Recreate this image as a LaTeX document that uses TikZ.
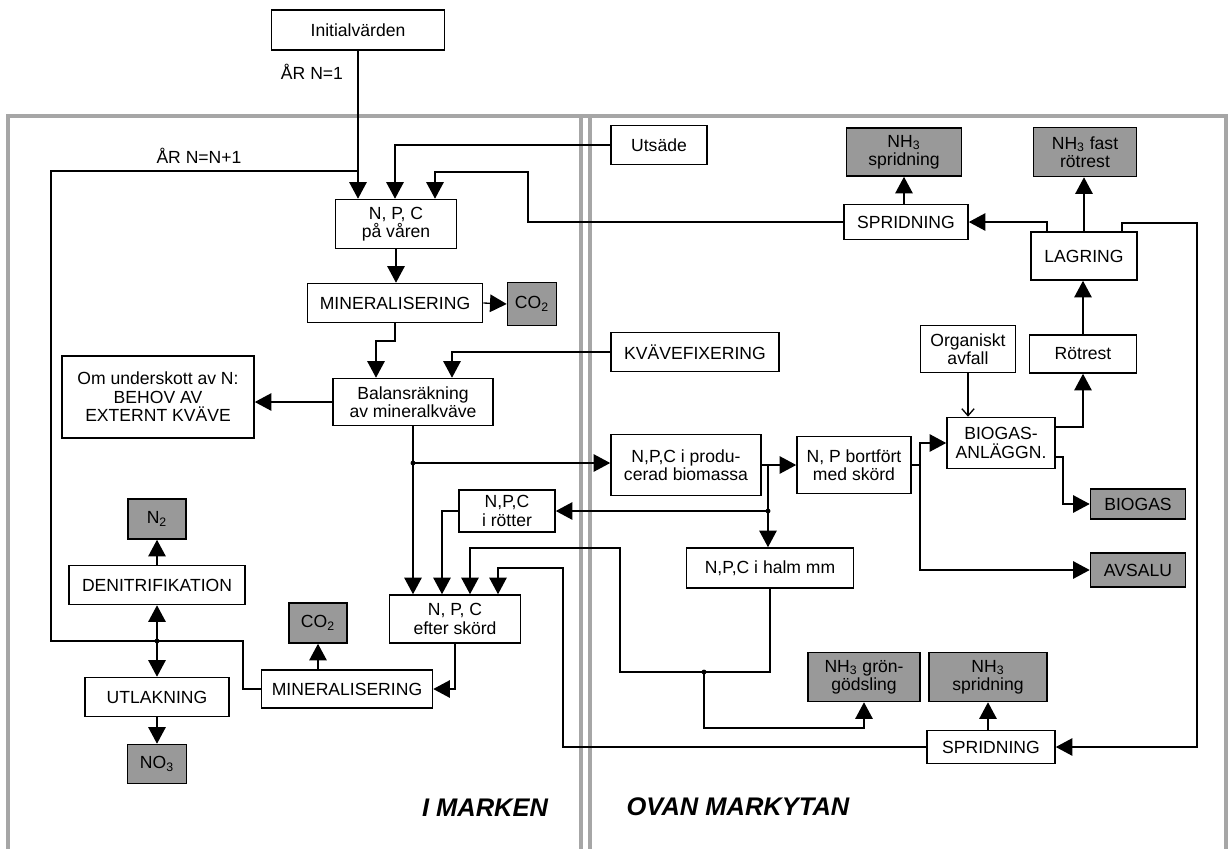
\documentclass[tikz,border=0pt]{standalone}
\usepackage{fontspec}
\setmainfont{Liberation Sans}
\usetikzlibrary{arrows.meta}

\tikzset{ruta/.style={draw,line width=0.9pt,align=center,inner sep=1pt},
  utruta/.style={ruta,fill=black!40},
  sz/.style 2 args={minimum width=#1*0.02cm,minimum height=#2*0.02cm},
  flow/.style={line width=0.75pt},
  arr/.style={flow,-{Triangle[length=9.5pt,width=10pt]}},
  tunnpil/.style={flow,-{Straight Barb[length=4pt,width=7pt]}},
  ram/.style={line width=2.6pt,black!35},
  rubrik/.style={font=\fontsize{14.5}{16}\selectfont\bfseries\itshape}}

\begin{document}
\begin{tikzpicture}[x=0.02cm,y=-0.02cm,font=\fontsize{10}{10.5}\selectfont]
        \useasboundingbox (0,0) rectangle (1232,849);
        % ramar
        \draw[ram] (8,849) -- (8,116) -- (1226,116) -- (1226,849);
        \draw[ram] (581,116) -- (581,849);
        \draw[ram] (590,116) -- (590,849);
        % i marken
        \node[ruta,sz={173}{40}] (ini) at (358,30) {Initialvärden};
        \node[ruta,sz={121}{49}] (var) at (396,224) {N, P, C\\på våren};
        \node[ruta,sz={175}{39}] (min1) at (395,303) {MINERALISERING};
        \node[utruta,sz={49}{43}] (co2a) at (532,304) {CO\textsubscript{2}};
        \node[ruta,sz={160}{47}] (bal) at (413,402) {Balansräkning\\av mineralkväve};
        \node[ruta,sz={192}{82}] (om) at (158,397) {Om underskott av N:\\BEHOV AV\\EXTERNT KVÄVE};
        \node[ruta,sz={96}{42}] (rot) at (507,511) {N,P,C\\i rötter};
        \node[ruta,sz={131}{48}] (eft) at (455,619) {N, P, C\\efter skörd};
        \node[ruta,sz={171}{38}] (min2) at (347,689) {MINERALISERING};
        \node[utruta,sz={58}{40}] (co2b) at (318,623) {CO\textsubscript{2}};
        \node[ruta,sz={176}{39}] (deni) at (157,585) {DENITRIFIKATION};
        \node[ruta,sz={144}{39}] (utl) at (157,697) {UTLAKNING};
        \node[utruta,sz={58}{40}] (n2) at (157,519) {N\textsubscript{2}};
        \node[utruta,sz={59}{39}] (no3) at (157,764) {NO\textsubscript{3}};
        % ovan markytan
        \node[ruta,sz={96}{39}] (uts) at (659,145) {Utsäde};
        \node[ruta,sz={168}{39}] (kvf) at (695,352) {KVÄVEFIXERING};
        \node[ruta,sz={150}{61}] (bio) at (686,465) {N,P,C i produ-\\cerad biomassa};
        \node[ruta,sz={167}{40}] (halm) at (770,568) {N,P,C i halm mm};
        \node[ruta,sz={114}{57}] (bort) at (854,465) {N, P bortfört\\med skörd};
        \node[ruta,sz={108}{51}] (bga) at (1001,443) {BIOGAS-\\ANLÄGGN.};
        \node[ruta,sz={95}{47}] (org) at (968,349) {Organiskt\\avfall};
        \node[ruta,sz={107}{38}] (rotr) at (1083,354) {Rötrest};
        \node[ruta,sz={106}{48}] (lag) at (1084,256) {LAGRING};
        \node[ruta,sz={124}{35}] (spr1) at (906,222) {SPRIDNING};
        \node[utruta,sz={115}{48}] (nh3a) at (904,152) {NH\textsubscript{3}\\spridning};
        \node[utruta,sz={103}{49}] (nh3c) at (1085,152) {NH\textsubscript{3} fast\\rötrest};
        \node[utruta,sz={95}{30}] (biog) at (1138,504) {BIOGAS};
        \node[utruta,sz={95}{34}] (avs) at (1138,570) {AVSALU};
        \node[utruta,sz={112}{49}] (gron) at (864,677) {NH\textsubscript{3} grön-\\gödsling};
        \node[utruta,sz={118}{49}] (nh3b) at (988,677) {NH\textsubscript{3}\\spridning};
        \node[ruta,sz={128}{33}] (spr2) at (991,747) {SPRIDNING};
        % texter
        \node (ar1) at (312,72) {ÅR N=1};
        \node (ar2) at (199,156) {ÅR N=N+1};
        \node[rubrik] (mark) at (485,808) {I MARKEN};
        \node[rubrik] (ovan) at (738,807) {OVAN MARKYTAN};
        % knutpunkter
        \coordinate (j1) at (157,641);
        \coordinate (j2) at (413,463);
        \coordinate (j3) at (768,465);
        \coordinate (j4) at (768,511);
        \coordinate (j5) at (704,672);
        \foreach \j in {j1,j2,j4,j5} \fill (\j) circle (1.4pt);
        % pilar
        \draw[arr] (ini.south) -- (ini.south |- var.north);
        \draw[flow] (j1) -- (51,641) |- (358,171);
        \draw[arr] (uts.west) -| (395,0 |- var.north);
        \draw[arr] (spr1.west) -| (528,172) -| (435,0 |- var.north);
        \draw[arr] (var.south) -- (var.south |- min1.north);
        \draw[arr] (min1.east) -- (co2a.west);
        \draw[arr] (min1.south) -- (395,341) -| (376,0 |- bal.north);
        \draw[arr] (kvf.west) -| (452,0 |- bal.north);
        \draw[arr] (bal.west) -- (bal.west -| om.east);
        \draw[arr] (bal.south) -- (bal.south |- eft.north);
        \draw[arr] (j2) -- (j2 -| bio.west);
        \draw[arr] (bio.east) -- (bort.west);
        \draw[arr] (j3) -- (j3 |- halm.north);
        \draw[arr] (j4) -- (j4 -| rot.east);
        \draw[arr] (rot.west) -| (442,0 |- eft.north);
        \draw[arr] (halm.south) -- (770,672) -- (620,672) -- (620,548) -| (470,0 |- eft.north);
        \draw[arr] (j5) -- (704,728) -| (gron.south);
        \draw[arr] (spr2.west) -| (563,568) -| (498,0 |- eft.north);
        \draw[arr] (nh3b.south |- spr2.north) -- (nh3b.south);
        \draw[arr] (1122,0 |- lag.north) -- (1122,223) -- (1197,223) |- (spr2.east);
        \draw[arr] (1047,0 |- lag.north) |- (spr1.east);
        \draw[arr] (nh3a.south |- spr1.north) -- (nh3a.south);
        \draw[arr] (lag.north) -- (lag.north |- nh3c.south);
        \draw[arr] (rotr.north) -- (rotr.north |- lag.south);
        \draw[arr] (1055,427) -| (rotr.south);
        \draw[arr] (1055,457) -- (1063,457) |- (biog.west);
        \draw[tunnpil] (org.south) -- (org.south |- bga.north);
        \draw[arr] (bort.east) -- (920,0 |- bort.east) |- (bga.west);
        \draw[arr] (920,0 |- bort.east) |- (avs.west);
        \draw[arr] (eft.south) |- (min2.east);
        \draw[arr] (co2b.south |- min2.north) -- (co2b.south);
        \draw[flow] (min2.west) -| (243,641) -- (j1);
        \draw[arr] (j1) -- (j1 |- deni.south);
        \draw[arr] (j1) -- (j1 |- utl.north);
        \draw[arr] (deni.north) -- (deni.north |- n2.south);
        \draw[arr] (utl.south) -- (utl.south |- no3.north);
    \end{tikzpicture}
\end{document}
